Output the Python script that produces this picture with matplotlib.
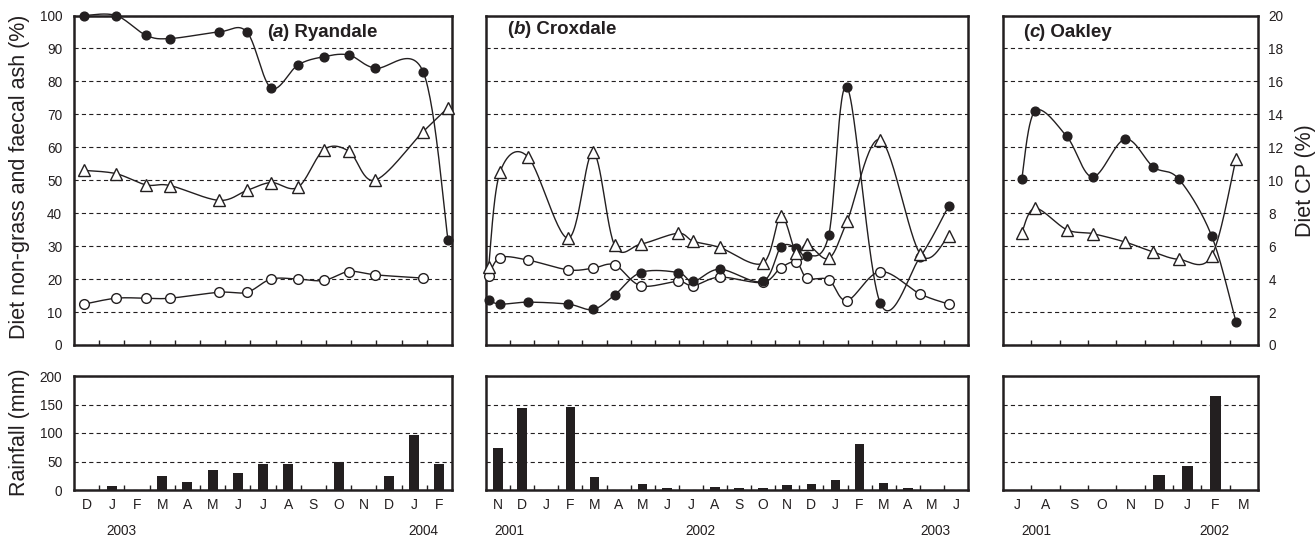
import numpy as np
import matplotlib
matplotlib.use('Agg')
import matplotlib.pyplot as plt
from matplotlib.ticker import FixedLocator
import matplotlib.transforms as mtransforms

plt.rcParams['font.family'] = ['Liberation Sans', 'DejaVu Sans']
plt.rcParams['lines.scale_dashes'] = False
INK = '#231f20'

# ---------------- data ----------------
# (a) Ryandale: sampling time in months from start of Dec 2002
months_a = ['D', 'J', 'F', 'M', 'A', 'M', 'J', 'J', 'A', 'S', 'O', 'N', 'D', 'J', 'F']
time_a = [0.40, 1.67, 2.86, 3.81, 5.75, 6.86, 7.82, 8.89, 9.92, 10.91, 11.94, 13.85, 14.84]
nongrass_a = [100, 100, 94, 93, 95, 95, 78, 85, 87.5, 88, 84, 83, 32]
cp_a = [10.6, 10.4, 9.72, 9.68, 8.78, 9.38, 9.86, 9.58, 11.86, 11.76, 10.0, 12.94, 14.4]
ash_a = [12.4, 14.2, 14.2, 14.2, 16, 16, 20, 20, 19.6, 22.3, 21.3, 20.3]
rain_a = [0, 7, 0, 25, 14, 35, 30, 46, 46, 0, 49, 0, 25, 97, 46]

# (b) Croxdale: months from start of Nov 2001
months_b = ['N', 'D', 'J', 'F', 'M', 'A', 'M', 'J', 'J', 'A', 'S', 'O', 'N', 'D',
            'J', 'F', 'M', 'A', 'M', 'J']
time_b = [0.11, 0.58, 1.73, 3.41, 4.44, 5.34, 6.42, 7.96, 8.6, 9.7, 11.48, 12.24,
          12.88, 13.32, 14.22, 14.98, 16.36, 18.01, 19.2]
nongrass_b = [13.7, 12.4, 13, 12.4, 10.8, 15.2, 22, 22, 19.3, 23, 19.3, 29.7,
              29.5, 27, 33.3, 78.3, 12.7, 26.7, 42.2]
cp_b = [4.76, 10.48, 11.44, 6.48, 11.7, 6.04, 6.12, 6.78, 6.3, 5.92, 4.96, 7.8,
        5.56, 6.12, 5.26, 7.5, 12.46, 5.54, 6.62]
ash_b = [21, 26.5, 25.8, 22.8, 23.3, 24.3, 18, 19.3, 18, 20.6, 19, 23.5, 25.1,
         20.3, 19.8, 13.5, 22.3, 15.5, 12.4]
rain_b = [73, 143, 0, 145, 23, 0, 10, 3, 0, 5, 3, 3, 8, 10, 18, 81, 12, 3, 0, 0]

# (c) Oakley: months from start of Jul 2001
months_c = ['J', 'A', 'S', 'O', 'N', 'D', 'J', 'F', 'M']
time_c = [0.66, 1.13, 2.25, 3.16, 4.31, 5.31, 6.21, 7.36, 8.22]
nongrass_c = [50.3, 71, 63.3, 51, 62.5, 54, 50.3, 33.2, 7.1]
cp_c = [6.8, 8.3, 7.0, 6.76, 6.25, 5.64, 5.2, 5.4, 11.3]
rain_c = [0, 0, 0, 0, 0, 27, 42, 165, 0]

# ---------------- figure ----------------
W, H = 1316, 537
fig = plt.figure(figsize=(W / 100, H / 100), dpi=100)


def px_axes(x0, x1, ytop, ybot):
    return fig.add_axes([x0 / W, 1 - ybot / H, (x1 - x0) / W, (ybot - ytop) / H])


def smooth(ax, x, y, xlim, ylim, n=30):
    bb = ax.get_position()
    sx = bb.width * W / (xlim[1] - xlim[0])
    sy = bb.height * H / (ylim[1] - ylim[0])
    P = np.column_stack([(np.asarray(x, float) - xlim[0]) * sx,
                         (np.asarray(y, float) - ylim[0]) * sy])
    Pe = np.vstack([P[0], P, P[-1]])
    out = []
    for i in range(len(P) - 1):
        p0, p1, p2, p3 = Pe[i], Pe[i + 1], Pe[i + 2], Pe[i + 3]
        c1 = p1 + (p2 - p0) / 6.0
        c2 = p2 - (p3 - p1) / 6.0
        t = np.linspace(0, 1, n)[:, None]
        seg = ((1 - t) ** 3) * p1 + 3 * ((1 - t) ** 2) * t * c1 + 3 * (1 - t) * t ** 2 * c2 + t ** 3 * p2
        out.append(seg)
    Q = np.vstack(out)
    return Q[:, 0] / sx + xlim[0], Q[:, 1] / sy + ylim[0]


def series(ax, x, y, xlim, ylim, marker, face, ms, z):
    lx, ly = smooth(ax, x, y, xlim, ylim)
    ax.plot(lx, ly, color=INK, lw=1.0, clip_on=False, zorder=z)
    ax.plot(x, y, ls='none', marker=marker, mfc=face, mec=INK, mew=1.0, ms=ms,
            clip_on=False, zorder=z + 0.5)


def frame(ax):
    for s in ax.spines.values():
        s.set_linewidth(1.8)
        s.set_color(INK)


def grid(ax):
    ax.yaxis.grid(True, linestyle=(0, (3.0, 2.3)), linewidth=0.8, color=INK)
    ax.set_axisbelow(True)


def title(ax, x, y, letter, name):
    kw = dict(fontsize=13.5, fontweight='bold', color=INK)
    t1 = ax.text(x, y, '(', transform=ax.transAxes, va='center', ha='left', **kw)
    t2 = ax.annotate(letter, xy=(1, 0), xycoords=t1, va='bottom', ha='left',
                     style='italic', **kw)
    ax.annotate(') ' + name, xy=(1, 0), xycoords=t2, va='bottom', ha='left', **kw)


def setup_top(ax, n, show_left):
    ax.set_xlim(0, n)
    ax.set_ylim(0, 100)
    ax.xaxis.set_major_locator(FixedLocator(list(range(1, n))))
    ax.tick_params(axis='x', direction='in', length=3.8, width=1.0, color=INK,
                   labelbottom=False)
    ax.set_yticks(np.arange(0, 101, 10))
    ax.tick_params(axis='y', length=0, pad=8.5, labelsize=9.8, labelcolor=INK,
                   labelleft=show_left)
    grid(ax)
    frame(ax)


def setup_bottom(ax, months, show_left):
    n = len(months)
    ax.set_xlim(0, n)
    ax.set_ylim(0, 200)
    ax.set_xticks(list(range(1, n)))
    ax.set_xticks(np.arange(n) + 0.5, minor=True)
    ax.set_xticklabels(months, minor=True)
    ax.tick_params(axis='x', which='major', direction='in', length=3.8, width=1.0,
                   color=INK, labelbottom=False)
    ax.tick_params(axis='x', which='minor', length=0, pad=6.0, labelsize=10,
                   labelcolor=INK)
    ax.set_yticks([0, 50, 100, 150, 200])
    ax.tick_params(axis='y', length=0, pad=8.5, labelsize=9.8, labelcolor=INK,
                   labelleft=show_left)
    grid(ax)
    frame(ax)


def years(ax, items):
    tr = mtransforms.blended_transform_factory(ax.transData, ax.transAxes)
    for xpos, txt in items:
        ax.text(xpos, -0.36, txt, transform=tr, ha='center', va='center',
                fontsize=9.8, color=INK)


TOP, BOT = 15.5, 345
RTOP, RBOT = 376, 490
XA = (74, 452)
XB = (486, 968)
XC = (1003, 1258)

# ---- top panels ----
ax_a = px_axes(*XA, TOP, BOT)
setup_top(ax_a, len(months_a), True)
ax_a2 = ax_a.twinx()
ax_a2.set_ylim(0, 20)
ax_a2.set_axis_off()
xl_a = (0, len(months_a))
series(ax_a, time_a[:len(ash_a)], ash_a, xl_a, (0, 100), 'o', 'white', 7.0, 3)
series(ax_a, time_a, nongrass_a, xl_a, (0, 100), 'o', INK, 6.3, 3)
series(ax_a2, time_a, cp_a, xl_a, (0, 20), '^', 'white', 8.0, 3)
title(ax_a, 0.51, 0.947, 'a', 'Ryandale')

ax_b = px_axes(*XB, TOP, BOT)
setup_top(ax_b, len(months_b), False)
ax_b2 = ax_b.twinx()
ax_b2.set_ylim(0, 20)
ax_b2.set_axis_off()
xl_b = (0, len(months_b))
series(ax_b, time_b, ash_b, xl_b, (0, 100), 'o', 'white', 7.0, 3)
series(ax_b, time_b, nongrass_b, xl_b, (0, 100), 'o', INK, 6.3, 3)
series(ax_b2, time_b, cp_b, xl_b, (0, 20), '^', 'white', 8.0, 3)
title(ax_b, 0.044, 0.956, 'b', 'Croxdale')

ax_c = px_axes(*XC, TOP, BOT)
setup_top(ax_c, len(months_c), False)
ax_c2 = ax_c.twinx()
ax_c2.set_ylim(0, 20)
ax_c2.set_yticks(np.arange(0, 21, 2))
ax_c2.tick_params(axis='y', length=0, pad=7.5, labelsize=9.8, labelcolor=INK)
for s in ax_c2.spines.values():
    s.set_visible(False)
xl_c = (0, len(months_c))
series(ax_c, time_c, nongrass_c, xl_c, (0, 100), 'o', INK, 6.3, 3)
series(ax_c2, time_c, cp_c, xl_c, (0, 20), '^', 'white', 8.0, 3)
title(ax_c, 0.078, 0.947, 'c', 'Oakley')

# ---- rainfall panels ----
for (xr, months, rain, show, yrs) in [
        (XA, months_a, rain_a, True, [(1.9, '2003'), (13.85, '2004')]),
        (XB, months_b, rain_b, False, [(0.95, '2001'), (8.9, '2002'), (18.65, '2003')]),
        (XC, months_c, rain_c, False, [(1.18, '2001'), (7.45, '2002')])]:
    ax = px_axes(*xr, RTOP, RBOT)
    ax.bar(np.arange(len(months)) + 0.5, rain, width=0.4, color=INK, zorder=3)
    setup_bottom(ax, months, show)
    years(ax, yrs)

# ---- axis titles ----
fig.text(20 / W, 1 - 177 / H, 'Diet non-grass and faecal ash (%)', rotation=90,
         ha='center', va='center', fontsize=15.5, color=INK)
fig.text(20 / W, 1 - 432 / H, 'Rainfall (mm)', rotation=90,
         ha='center', va='center', fontsize=15.5, color=INK)
fig.text(1306 / W, 1 - 181 / H, 'Diet CP (%)', rotation=90,
         ha='center', va='center', fontsize=15.5, color=INK)

fig.savefig('out.png', dpi=100)
